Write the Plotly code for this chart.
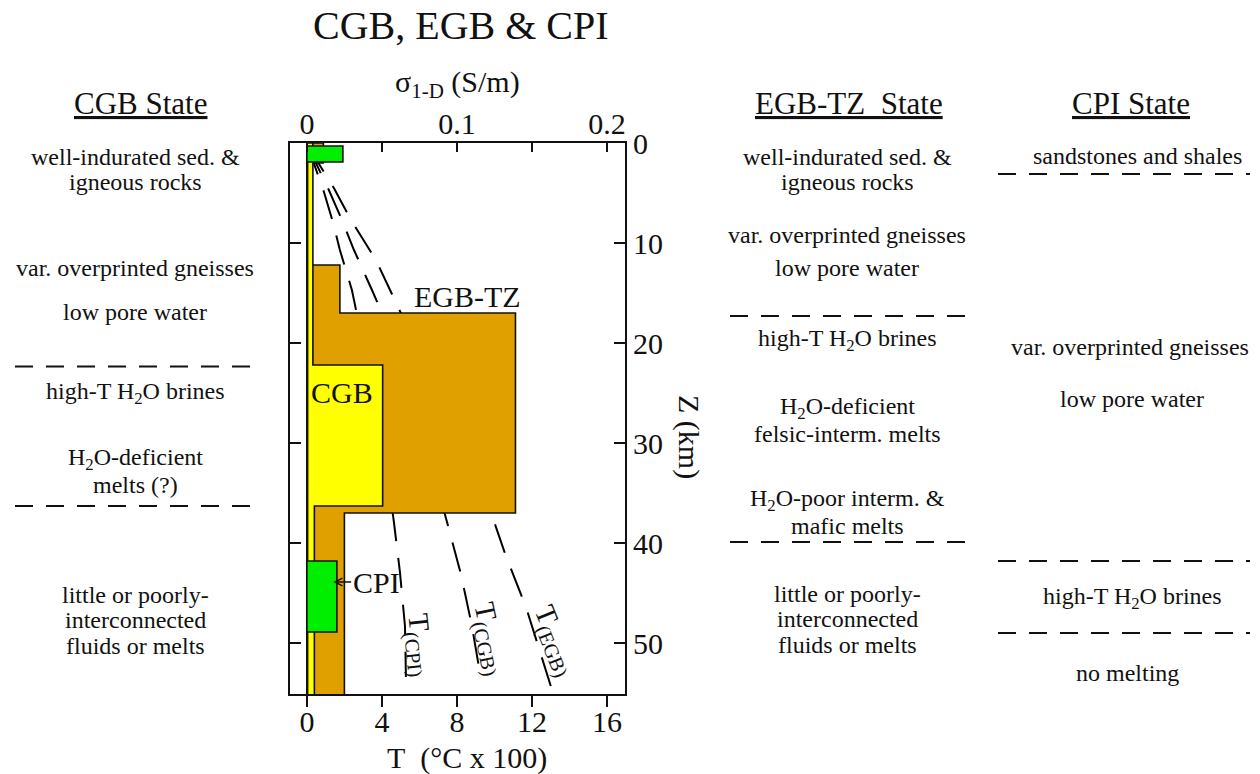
import plotly.graph_objects as go

# ---------------- data ----------------
# Conductivity step profiles (sigma in S/m) : layer boundaries (km) and layer values
EGB_BOUNDS = [0.0, 2.0, 12.2, 17.0, 37.0, 55.5]
EGB_SIGMA = [0.011, 0.003, 0.022, 0.139, 0.025]

CGB_BOUNDS = [0.0, 22.2, 36.3, 55.5]
CGB_SIGMA = [0.004, 0.0505, 0.005]

CPI_BOUNDS = [0.3, 1.9, 41.8, 48.9, 55.5]
CPI_SIGMA = [0.024, 0.0005, 0.020, 0.0005]

# Geotherms (T in 100 degC, depth in km)
GEO_CPI_T = [0.05, 0.91, 1.40, 1.76, 2.40, 2.93, 3.41, 3.95, 4.27, 4.64, 4.96, 5.23, 5.28]
GEO_CPI_Z = [0.3, 4.9, 8.0, 10.7, 14.7, 19.5, 22.7, 27.8, 32.8, 37.9, 42.9, 48.3, 53.4]
GEO_CGB_T = [0.05, 1.17, 1.87, 2.51, 3.47, 4.16, 4.48, 5.12, 5.87, 6.72, 7.47, 8.21, 8.80, 9.28]
GEO_CGB_Z = [0.3, 4.7, 7.7, 10.7, 14.7, 17.7, 19.5, 22.7, 27.8, 32.8, 37.9, 43.1, 48.3, 53.6]
GEO_EGB_T = [0.05, 1.44, 2.35, 3.68, 5.01, 6.24, 7.41, 8.64, 9.71, 10.61, 11.68, 12.53, 13.12]
GEO_EGB_Z = [0.3, 4.5, 7.7, 11.7, 17.0, 21.9, 26.6, 31.4, 36.4, 41.3, 46.4, 51.4, 55.0]

T_TICKS = [0, 4, 8, 12, 16]
SIGMA_TICKS = [0, 0.1, 0.2]
SIGMA_MINOR_TICKS = [0.05, 0.15]
Z_TICKS = [0, 10, 20, 30, 40, 50]

# column boundaries (km)
CGB_STATE_BREAKS = [22.35, 36.3]
EGB_STATE_BREAKS = [17.3, 39.9]
CPI_STATE_BREAKS = [3.1, 41.8, 49.0]

CGB_STATE_TEXT = ["well-indurated sed. &<br>igneous rocks", "var. overprinted gneisses",
                  "low pore water", "high-T H<sub>2</sub>O brines",
                  "H<sub>2</sub>O-deficient<br>melts (?)",
                  "little or poorly-<br>interconnected<br>fluids or melts"]
EGB_STATE_TEXT = ["well-indurated sed. &<br>igneous rocks", "var. overprinted gneisses",
                  "low pore water", "high-T H<sub>2</sub>O brines",
                  "H<sub>2</sub>O-deficient<br>felsic-interm. melts",
                  "H<sub>2</sub>O-poor interm. &<br>mafic melts",
                  "little or poorly-<br>interconnected<br>fluids or melts"]
CPI_STATE_TEXT = ["sandstones and shales", "var. overprinted gneisses", "low pore water",
                  "high-T H<sub>2</sub>O brines", "no melting"]

FONT = "Liberation Serif, Times New Roman, serif"
INK = "#111"

# plot area in pixels
L, R, TOP, BOT = 290, 625, 143, 694


def px(x):
    return (x - L) / (R - L)


def py(y):
    return (BOT - y) / (BOT - TOP)


def step_polygon(bounds, vals):
    xs, ys = [0], [bounds[0]]
    for i, v in enumerate(vals):
        xs += [v, v]
        ys += [bounds[i], bounds[i + 1]]
    xs += [0, 0]
    ys += [bounds[-1], bounds[0]]
    return xs, ys


fig = go.Figure()

for bounds, vals, col in [(EGB_BOUNDS, EGB_SIGMA, "#E0A000"),
                          (CGB_BOUNDS, CGB_SIGMA, "#FFFF00"),
                          (CPI_BOUNDS, CPI_SIGMA, "#00EE00")]:
    xs, ys = step_polygon(bounds, vals)
    fig.add_trace(go.Scatter(x=xs, y=ys, xaxis="x2", yaxis="y", mode="lines",
                             fill="toself", fillcolor=col,
                             line=dict(color=INK, width=1.6), hoverinfo="skip"))

for t, z in [(GEO_CPI_T, GEO_CPI_Z), (GEO_CGB_T, GEO_CGB_Z), (GEO_EGB_T, GEO_EGB_Z)]:
    fig.add_trace(go.Scatter(x=t, y=z, xaxis="x", yaxis="y", mode="lines",
                             line=dict(color="black", width=2, dash="30px,17px"),
                             hoverinfo="skip"))

ann = []


def add(text, x, y, size=24, **kw):
    d = dict(text=text, x=px(x), y=py(y), xref="paper", yref="paper",
             showarrow=False, font=dict(family=FONT, size=size, color=INK),
             xanchor="center", yanchor="middle")
    d.update(kw)
    ann.append(d)


def add_block(text, x, y_center, size=24, gap=25.5):
    lines = text.split("<br>")
    n = len(lines)
    for i, ln in enumerate(lines):
        add(ln, x, y_center + (i - (n - 1) / 2) * gap, size)


# titles
add("CGB, EGB &amp; CPI", 461, 26, 40)
add("σ<sub>1-D</sub> (S/m)", 457, 84, 30)
add("T\u00a0\u00a0(°C x 100)", 467, 758, 30)
add("Z (km)", 689, 437, 30, textangle=90)

# in-plot labels
lab_font = dict(family=FONT, size=30, color=INK)
ann.append(dict(text="EGB-TZ", x=0.107, y=15.3, xref="x2", yref="y", showarrow=False,
                font=lab_font))
ann.append(dict(text="CGB", x=0.0233, y=24.9, xref="x2", yref="y", showarrow=False,
                font=lab_font))
ann.append(dict(text="CPI", x=0.0175, y=43.9, xref="x2", yref="y", showarrow=True,
                ax=43, ay=0, arrowhead=5, arrowsize=1, arrowwidth=1.5, arrowcolor=INK,
                standoff=0, font=lab_font))
for lab, x, y, ang in [("T<sub>(CPI)</sub>", 6.0, 50.2, 84),
                       ("T<sub>(CGB)</sub>", 9.75, 49.6, 78),
                       ("T<sub>(EGB)</sub>", 13.25, 49.8, 68)]:
    ann.append(dict(text=lab, x=x, y=y, xref="x", yref="y", showarrow=False,
                    textangle=ang, font=dict(family=FONT, size=29, color=INK)))

# state columns
add("<u>CGB State</u>", 140, 103, 31)
for txt, y in zip(CGB_STATE_TEXT, [169.5, 268, 312, 393, 472, 620]):
    add_block(txt, 135, y)
add("<u>EGB-TZ\u00a0\u00a0State</u>", 849, 103, 31)
for txt, y in zip(EGB_STATE_TEXT, [169.5, 235, 268, 340, 421, 513, 619]):
    add_block(txt, 847, y)
add("<u>CPI State</u>", 1131, 103, 31)
for txt, x, y in zip(CPI_STATE_TEXT, [1137, 1130, 1132, 1132, 1127], [156, 347, 399, 598, 673]):
    add_block(txt, x, y)

shapes = []
for brks, x0, x1 in [(CGB_STATE_BREAKS, 15, 250), (EGB_STATE_BREAKS, 730, 965),
                     (CPI_STATE_BREAKS, 998, 1250)]:
    for z in brks:
        shapes.append(dict(type="line", xref="paper", yref="y", x0=px(x0), x1=px(x1),
                           y0=z, y1=z, line=dict(color=INK, width=2, dash="18px,13px")))

tickfont = dict(family=FONT, size=30, color=INK)
fig.update_layout(
    width=1260, height=774,
    margin=dict(l=L, r=1260 - R, t=TOP, b=774 - BOT),
    paper_bgcolor="white", plot_bgcolor="white", showlegend=False,
    xaxis=dict(range=[-0.9, 16.96], tickvals=T_TICKS, ticks="outside", ticklen=11,
               tickwidth=2, tickcolor=INK, showline=True, linecolor=INK, linewidth=2,
               showgrid=False, zeroline=False, tickfont=tickfont, anchor="y",
               ticklabelstandoff=-11),
    xaxis2=dict(range=[-0.01125, 0.2120], overlaying="x", side="top", tickvals=SIGMA_TICKS,
                ticks="inside", ticklen=9, tickwidth=2,
                minor=dict(tickvals=SIGMA_MINOR_TICKS, ticks="inside", ticklen=9,
                           tickwidth=2, tickcolor=INK, showgrid=False),
                tickcolor=INK, showline=True, linecolor=INK, linewidth=2,
                showgrid=False, zeroline=False, tickfont=tickfont, anchor="y",
                ticklabelstandoff=-5),
    yaxis=dict(range=[55.1, 0], side="right", tickvals=Z_TICKS, ticks="inside", ticklen=11,
               tickwidth=2, tickcolor=INK, showline=True, linecolor=INK, linewidth=2,
               mirror="ticks", showgrid=False, zeroline=False, tickfont=tickfont),
    annotations=ann, shapes=shapes,
)

fig.write_html("out.html")
